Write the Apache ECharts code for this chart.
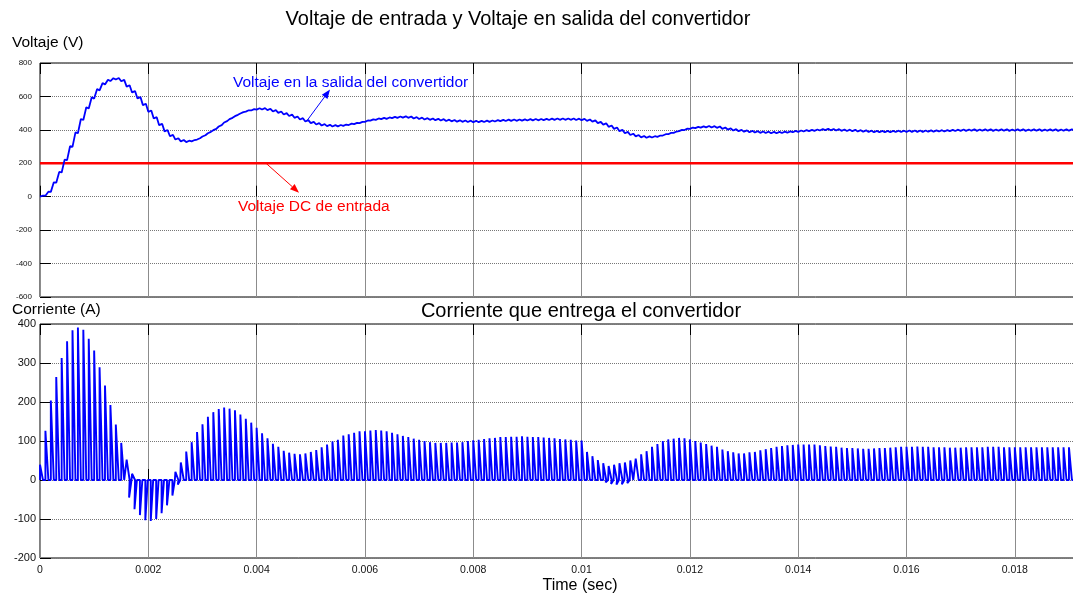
<!DOCTYPE html>
<html>
<head>
<meta charset="utf-8">
<script src="https://cdn.jsdelivr.net/npm/echarts@6/dist/echarts.min.js"></script>
<style>
  html, body { margin: 0; padding: 0; background: #fff; overflow: hidden; }
  #chart { width: 1073px; height: 596px; }
</style>
</head>
<body>
<div id="chart"></div>
<script>
// Periodo de conmutación (s) y fin de la ventana de simulación mostrada
const periodo = 0.0001;
const tiempoFinal = 0.01913;

// Ejes: límites y separación de marcas
const ejeTiempo = { min: 0, max: tiempoFinal, paso: 0.002 };
const ejeVoltaje = { min: -600, max: 800, paso: 200 };
const ejeCorriente = { min: -200, max: 400, paso: 100 };

// Tensión DC de entrada (V)
const voltajeEntrada = 200;

// Tensión de salida en cada periodo: al empezar el pulso de corriente (V)
const voltajeValle = [
  0, 6, 29, 84, 145, 219, 298, 380, 459, 528, 587, 636, 671, 692, 701,
  691, 659, 624, 588, 548, 508, 468, 428, 391, 362,
  342, 331, 327, 331, 342, 360, 380, 398, 420, 444,
  464, 482, 498, 509, 516, 521, 522, 518, 510, 502,
  492, 483, 472, 462, 450, 440, 432, 426, 422, 420,
  421, 424, 429, 434, 440, 448, 455, 460, 464, 466,
  470, 472, 473, 472, 468, 465, 462, 460, 458, 456,
  453, 451, 449, 448, 447, 446, 446, 447, 448, 450,
  452, 453, 454, 454, 455, 456, 457, 457, 458, 459,
  460, 460, 460, 460, 459, 458, 454, 449, 440, 431,
  418, 406, 392, 380, 369, 361, 355, 353, 354, 358,
  366, 374, 382, 392, 399, 406, 410, 413, 415, 414,
  412, 406, 401, 396, 392, 389, 386, 384, 382, 381,
  380, 380, 381, 383, 386, 388, 390, 392, 394, 396,
  398, 397, 396, 394, 393, 392, 390, 389, 387, 386,
  386, 386, 386, 387, 387, 388, 388, 388, 388, 389,
  389, 390, 390, 392, 393, 394, 394, 395, 394, 395,
  395, 394, 395, 395, 394, 395, 395, 394, 395, 395,
  394, 395, 395, 394, 395, 395, 394
];

// Tensión de salida en cada periodo: al terminar el pulso de corriente (V)
const voltajePico = [
  6, 30, 86, 148, 222, 302, 385, 465, 535, 595, 645, 680, 700, 709, 710,
  699, 667, 632, 596, 556, 516, 476, 436, 399, 370,
  350, 339, 335, 339, 350, 368, 388, 406, 428, 452,
  472, 490, 506, 517, 524, 529, 530, 526, 518, 510,
  500, 491, 480, 470, 458, 448, 440, 434, 430, 428,
  429, 432, 437, 442, 448, 456, 463, 468, 472, 474,
  478, 480, 481, 480, 476, 473, 470, 468, 466, 464,
  461, 459, 457, 456, 455, 454, 454, 455, 456, 458,
  460, 461, 462, 462, 463, 464, 465, 465, 466, 467,
  468, 468, 468, 468, 467, 466, 462, 457, 448, 439,
  426, 414, 400, 388, 377, 369, 363, 361, 362, 366,
  374, 382, 390, 400, 407, 414, 418, 421, 423, 422,
  420, 414, 409, 404, 400, 397, 394, 392, 390, 389,
  388, 388, 389, 391, 394, 396, 398, 400, 402, 404,
  406, 405, 404, 402, 401, 400, 398, 397, 395, 394,
  394, 394, 394, 395, 395, 396, 396, 396, 396, 397,
  397, 398, 398, 400, 401, 402, 402, 403, 402, 403,
  403, 402, 403, 403, 402, 403, 403, 402, 403, 403,
  402, 403, 403, 402, 403, 403, 402
];

// Pico de la corriente entregada en cada periodo (A)
const corrientePico = [
  39, 126, 204, 264, 313, 356, 384, 391, 385, 362,
  332, 289, 242, 192, 142, 95, 52, 16, 0, 0,
  0, 0, 0, 0, 0, 21, 45, 73, 97, 123,
  143, 162, 174, 182, 186, 183, 179, 168, 157, 147,
  134, 120, 107, 93, 85, 75, 70, 67, 66, 68,
  72, 77, 84, 91, 99, 103, 114, 117, 121, 125,
  125, 127, 128, 127, 125, 121, 117, 113, 110, 106,
  103, 100, 97, 95, 95, 95, 96, 96, 97, 100,
  102, 103, 105, 107, 108, 110, 110, 111, 111, 112,
  111, 110, 110, 109, 108, 107, 105, 104, 103, 101,
  101, 72, 61, 51, 43, 36, 39, 43, 45, 50,
  55, 66, 74, 85, 92, 100, 104, 106, 108, 107,
  104, 100, 96, 92, 88, 85, 78, 74, 71, 68,
  68, 71, 72, 76, 79, 82, 85, 87, 89, 90,
  91, 91, 91, 91, 89, 87, 86, 85, 83, 82,
  82, 81, 80, 80, 81, 82, 82, 83, 84, 85,
  85, 85, 86, 85, 85, 84, 84, 84, 83, 83,
  83, 84, 84, 84, 84, 85, 85, 85, 84, 84,
  84, 84, 84, 84, 84, 84, 84, 84, 84, 84,
  84, 84
];

// Pulsos de corriente inversa: [periodo, pico (A)]
const corrienteInversa = [
  [15, -5], [16, -45], [17, -75], [18, -90], [19, -103], [20, -105],
  [21, -100], [22, -85], [23, -65], [24, -40], [25, -12],
  [104, -6], [105, -10], [106, -12], [107, -11], [108, -8], [109, -4]
];

// Forma de cada pulso dentro del periodo (fracciones del periodo)
const rampaDirecta = 0.55;   // caída lineal del pulso positivo
const inicioInversa = 0.45;  // arranque del pulso inverso
const rampaInversa = 0.45;   // recuperación del pulso inverso

const fuente = '"Liberation Sans", Arial, Helvetica, sans-serif';

// Forma de onda de la corriente: subida vertical y rampa lineal hasta cero
const inversaPorPeriodo = new Map(corrienteInversa);
const serieCorriente = [];
corrientePico.forEach((pico, k) => {
  const t0 = k * periodo;
  serieCorriente.push([t0, 0]);
  if (pico !== 0) {
    serieCorriente.push([t0, pico]);
    serieCorriente.push([t0 + rampaDirecta * periodo, 0]);
  }
  if (inversaPorPeriodo.has(k)) {
    const ti = t0 + inicioInversa * periodo;
    serieCorriente.push([ti, 0]);
    serieCorriente.push([ti, inversaPorPeriodo.get(k)]);
    serieCorriente.push([ti + rampaInversa * periodo, 0]);
  }
});

// Tensión de salida: sube mientras dura el pulso y cae hasta el siguiente
const serieVoltaje = [];
voltajeValle.forEach((valle, k) => {
  const t0 = k * periodo;
  serieVoltaje.push([t0, valle]);
  serieVoltaje.push([t0 + rampaDirecta * periodo, voltajePico[k]]);
});

const serieEntrada = [[ejeTiempo.min, voltajeEntrada], [ejeTiempo.max, voltajeEntrada]];

const formatoTiempo = v => (v === 0 ? '0' : String(+v.toFixed(4)));

function ejeX(gridIndex, position, conEtiquetas) {
  return {
    type: 'value', gridIndex, position,
    min: ejeTiempo.min, max: ejeTiempo.max, interval: ejeTiempo.paso,
    axisLine: { show: false },
    axisTick: { show: true, inside: true, length: 11, lineStyle: { color: '#000', width: 1 } },
    axisLabel: {
      show: conEtiquetas, showMaxLabel: false, margin: 7,
      fontSize: 10.5, color: '#111', fontFamily: fuente, formatter: formatoTiempo
    },
    splitLine: { show: position === 'bottom', lineStyle: { color: '#8c8c8c', width: 1 } }
  };
}

function ejeY(gridIndex, eje, tamano, margen) {
  return {
    type: 'value', gridIndex,
    min: eje.min, max: eje.max, interval: eje.paso,
    axisLine: { show: false },
    axisTick: { show: true, inside: true, length: 11, lineStyle: { color: '#000', width: 1 } },
    axisLabel: { margin: margen, fontSize: tamano, color: '#111', fontFamily: fuente },
    splitLine: { show: true, lineStyle: { color: '#777', width: 1, type: 'dotted' } }
  };
}

const chart = echarts.init(document.getElementById('chart'), null, { renderer: 'canvas' });

// Las dos áreas de trazado sobresalen por la derecha: el borde derecho queda fuera del lienzo
const rejilla = (top) => ({
  left: 40, top, width: 1036, height: 234,
  outerBoundsMode: 'none', containLabel: false,
  show: true, borderColor: '#000', borderWidth: 1, backgroundColor: '#fff'
});

chart.setOption({
  animation: false,
  backgroundColor: '#fff',
  grid: [rejilla(63), rejilla(324)],
  xAxis: [
    ejeX(0, 'bottom', false),
    ejeX(0, 'top', false),
    ejeX(1, 'bottom', true),
    ejeX(1, 'top', false)
  ],
  yAxis: [
    ejeY(0, ejeVoltaje, 8, 8),
    ejeY(1, ejeCorriente, 11, 4)
  ],
  series: [
    {
      name: 'Voltaje DC de entrada', type: 'line', xAxisIndex: 0, yAxisIndex: 0,
      data: serieEntrada, showSymbol: false, silent: true,
      lineStyle: { color: '#ff0000', width: 2.5 }
    },
    {
      name: 'Voltaje en la salida del convertidor', type: 'line', xAxisIndex: 0, yAxisIndex: 0,
      data: serieVoltaje, showSymbol: false, silent: true, sampling: null,
      lineStyle: { color: '#0000ff', width: 1.8 }
    },
    {
      name: 'Corriente', type: 'line', xAxisIndex: 2, yAxisIndex: 1,
      data: serieCorriente, showSymbol: false, silent: true, sampling: null,
      lineStyle: { color: '#0000ff', width: 1.9 }
    }
  ]
});

// Textos y flechas de anotación, situados en coordenadas de datos
function texto(x, y, contenido, tamano, color, alineado) {
  return {
    type: 'text', x, y, z: 100,
    style: {
      text: contenido, font: tamano + 'px ' + fuente, fill: color,
      align: alineado, verticalAlign: 'middle',
      textAlign: alineado, textVerticalAlign: 'middle'
    }
  };
}

function flecha(desde, hasta, color) {
  const p0 = chart.convertToPixel({ xAxisIndex: 0, yAxisIndex: 0 }, desde);
  const p1 = chart.convertToPixel({ xAxisIndex: 0, yAxisIndex: 0 }, hasta);
  const dx = p1[0] - p0[0], dy = p1[1] - p0[1];
  const len = Math.hypot(dx, dy);
  const ux = dx / len, uy = dy / len;
  const largo = 9, ancho = 3.5;
  const bx = p1[0] - ux * largo, by = p1[1] - uy * largo;
  return [
    { type: 'line', z: 100, shape: { x1: p0[0], y1: p0[1], x2: bx, y2: by }, style: { stroke: color, lineWidth: 1 } },
    { type: 'polygon', z: 100, shape: { points: [[p1[0], p1[1]], [bx - uy * ancho, by + ux * ancho], [bx + uy * ancho, by - ux * ancho]] }, style: { fill: color } }
  ];
}

const pTextoAzul = chart.convertToPixel({ xAxisIndex: 0, yAxisIndex: 0 }, [0.003564, 683]);
const pTextoRojo = chart.convertToPixel({ xAxisIndex: 0, yAxisIndex: 0 }, [0.003656, -60]);

chart.setOption({
  graphic: [
    texto(518, 19, 'Voltaje de entrada y Voltaje en salida del convertidor', 20, '#000', 'center'),
    texto(581, 311, 'Corriente que entrega el convertidor', 20, '#000', 'center'),
    texto(12, 43, 'Voltaje (V)', 15.5, '#000', 'left'),
    texto(12, 310, 'Corriente (A)', 15.5, '#000', 'left'),
    texto(580, 586, 'Time (sec)', 16, '#000', 'center'),
    texto(pTextoAzul[0], pTextoAzul[1], 'Voltaje en la salida del convertidor', 15.5, '#0000ff', 'left'),
    texto(pTextoRojo[0], pTextoRojo[1], 'Voltaje DC de entrada', 15.5, '#ff0000', 'left'),
    ...flecha([0.00493, 455], [0.005355, 641], '#0000ff'),
    ...flecha([0.004174, 200], [0.004783, 24], '#ff0000')
  ]
});
</script>
</body>
</html>
